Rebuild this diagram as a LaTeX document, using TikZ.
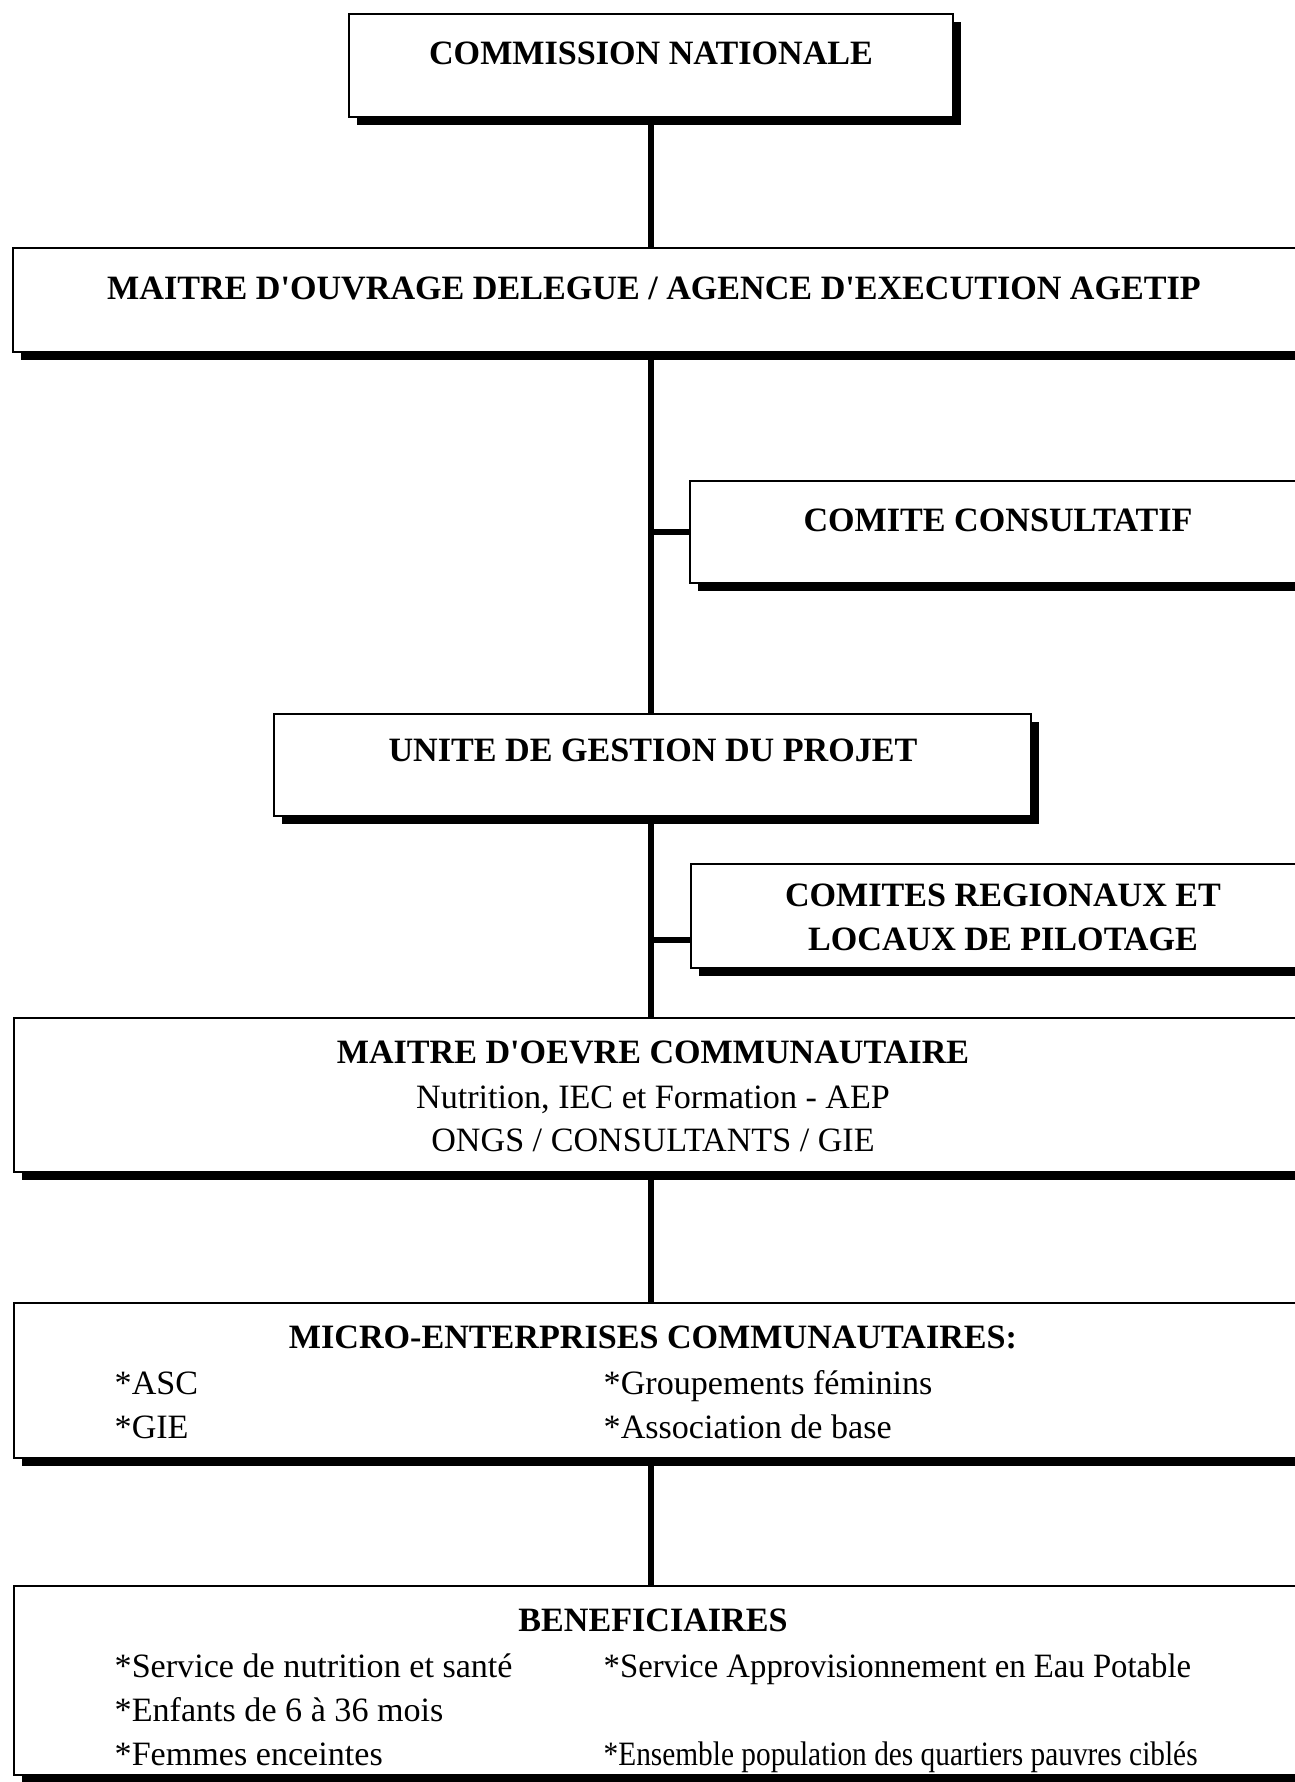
\documentclass[tikz,border=0pt]{standalone}
\usepackage{fontspec}
\setmainfont{Liberation Serif}
\usetikzlibrary{fit}
\usetikzlibrary{shadows}
\tikzset{box/.style = {draw,line width=0.7pt,fill=white,inner sep=0pt,
    general shadow={fill=black,shadow xshift=0.08cm,shadow yshift=-0.08cm}}}
\tikzset{link/.style = {line width=1.5pt}}
\tikzset{title/.style = {font=\fontsize{9.7}{11.6}\selectfont\bfseries,anchor=base,inner sep=0pt}}
\tikzset{plain/.style = {font=\fontsize{9.7}{11.6}\selectfont,anchor=base,inner sep=0pt}}
\tikzset{item/.style = {font=\fontsize{9.7}{11.6}\selectfont,anchor=base west,inner sep=0pt}}

\begin{document}
\begin{tikzpicture}[x=0.01cm,y=-0.01cm]
            \useasboundingbox (0,0) rectangle (1295,1782);
            \clip (0,0) rectangle (1295,1782);

            % Boxes
            \node[box,fit={(349,14) (953,117)}] (cn) {};
            \node[box,fit={(13,248) (1300,352)}] (mo) {};
            \node[box,fit={(690,481) (1310,583)}] (cc) {};
            \node[box,fit={(274,714) (1031,816)}] (ug) {};
            \node[box,fit={(691,864) (1310,968)}] (cr) {};
            \node[box,fit={(14,1018) (1300,1172)}] (me) {};
            \node[box,fit={(14,1303) (1300,1458)}] (mc) {};
            \node[box,fit={(14,1586) (1300,1775)}] (bn) {};

            % Links
            \draw[link] (cn.south) to (cn.south |- mo.north);
            \draw[link] (cn.south |- mo.south) to (cn.south |- ug.north);
            \draw[link] (cc.west) to (cc.west -| cn.south);
            \draw[link] (cn.south |- ug.south) to (cn.south |- me.north);
            \coordinate (crj) at ([yshift=-0.24cm]cr.west);
            \draw[link] (crj) to (crj -| cn.south);
            \draw[link] (cn.south |- me.south) to (cn.south |- mc.north);
            \draw[link] (cn.south |- mc.south) to (cn.south |- bn.north);

            % Texts
            \node[title] (cn-t) at (651,65) {COMMISSION NATIONALE};
            \node[title] (mo-t) at (654,299) {MAITRE D\textquotesingle OUVRAGE DELEGUE / AGENCE D\textquotesingle EXECUTION AGETIP};
            \node[title] (cc-t) at (998,531) {COMITE CONSULTATIF};
            \node[title] (ug-t) at (653,761) {UNITE DE GESTION DU PROJET};
            \node[title] (cr-t1) at (1003,906) {COMITES REGIONAUX ET};
            \node[title] (cr-t2) at (1003,950) {LOCAUX DE PILOTAGE};

            % Maitre d'oeuvre
            \node[title] (me-t) at (653,1063) {MAITRE D\textquotesingle OEVRE COMMUNAUTAIRE};
            \node[plain] (me-a) at (653,1108) {Nutrition, IEC et Formation - AEP};
            \node[plain] (me-b) at (653,1151) {ONGS / CONSULTANTS / GIE};

            % Micro-entreprises
            \node[title] (mc-t) at (653,1348) {MICRO-ENTERPRISES COMMUNAUTAIRES:};
            \node[item] (mc-a) at (114,1394) {*ASC};
            \node[item] (mc-b) at (114,1438) {*GIE};
            \node[item] (mc-c) at (603,1394) {*Groupements féminins};
            \node[item] (mc-d) at (603,1438) {*Association de base};

            % Beneficiaires
            \node[title] (bn-t) at (653,1631) {BENEFICIAIRES};
            \node[item] (bn-a) at (114,1677) {*Service de nutrition et santé};
            \node[item] (bn-b) at (114,1721) {*Enfants de 6 à 36 mois};
            \node[item] (bn-c) at (114,1765) {*Femmes enceintes};
            \node[item] (bn-d) at (603,1677) {\scalebox{0.96}[1]{*Service Approvisionnement en Eau Potable}};
            \node[item] (bn-e) at (603,1765) {\scalebox{0.86}[1]{*Ensemble population des quartiers pauvres ciblés}};
        \end{tikzpicture}
\end{document}
